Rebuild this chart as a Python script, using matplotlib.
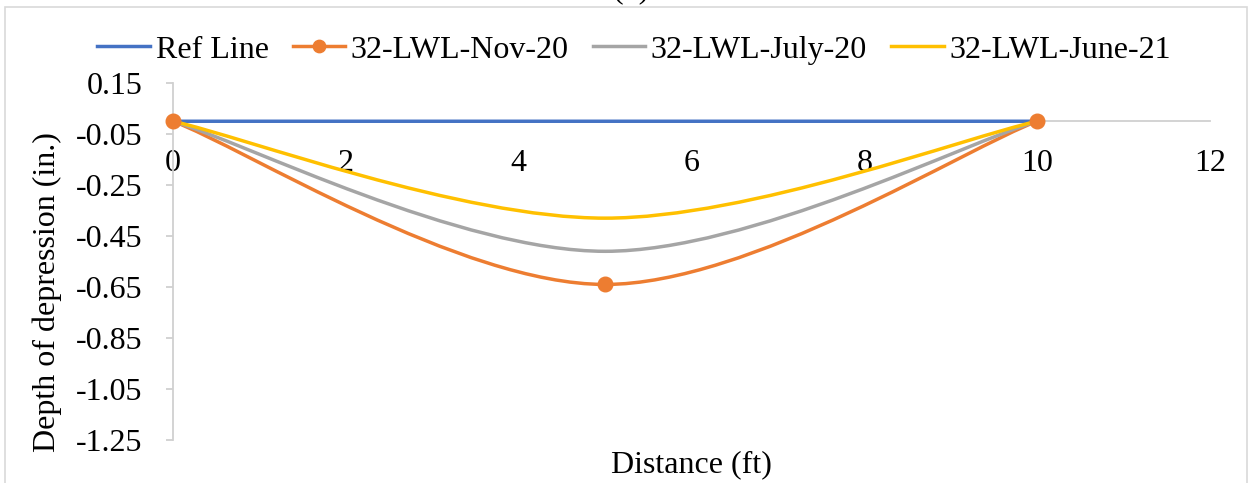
import matplotlib
matplotlib.use("Agg")
import matplotlib.pyplot as plt
from matplotlib.path import Path
from matplotlib.patches import PathPatch, Rectangle
from matplotlib.lines import Line2D

plt.rcParams['font.family'] = ['Liberation Serif', 'DejaVu Serif']
plt.rcParams['axes.unicode_minus'] = False

# ---- data ----
distance = [0, 5, 10]
ref_line = [0, 0, 0]
nov_20 = [0, -0.64, 0]
july_20 = [0, -0.51, 0]
june_21 = [0, -0.38, 0]
series_names = ["Ref Line", "32-LWL-Nov-20", "32-LWL-July-20", "32-LWL-June-21"]
x_ticks = [0, 2, 4, 6, 8, 10, 12]
y_ticks = [0.15, -0.05, -0.25, -0.45, -0.65, -0.85, -1.05, -1.25]
y_tick_labels = ["0.15", "-0.05", "-0.25", "-0.45", "-0.65", "-0.85", "-1.05", "-1.25"]

colors = ["#4472C4", "#ED7D31", "#A5A5A5", "#FFC000"]
FS = 23
LW = 2.5
MS = 10.5

fig = plt.figure(figsize=(12.55, 4.83), dpi=100)
W, H = 1255, 483
ax = fig.add_axes([173 / W, 1 - 440 / H, (1210 - 173) / W, (440 - 83) / H])


def smooth_path(xs, ys):
    """Excel-style smoothed line: cubic Bezier segments through the data points."""
    n = len(xs)
    verts = [(xs[0], ys[0])]
    codes = [Path.MOVETO]
    for i in range(n - 1):
        x0, y0 = xs[max(i - 1, 0)], ys[max(i - 1, 0)]
        x1, y1 = xs[i], ys[i]
        x2, y2 = xs[i + 1], ys[i + 1]
        x3, y3 = xs[min(i + 2, n - 1)], ys[min(i + 2, n - 1)]
        c1 = (x1 + (x2 - x0) / 6, y1 + (y2 - y0) / 6)
        c2 = (x2 - (x3 - x1) / 6, y2 - (y3 - y1) / 6)
        verts += [c1, c2, (x2, y2)]
        codes += [Path.CURVE4] * 3
    return Path(verts, codes)


all_series = [ref_line, nov_20, july_20, june_21]
zorders = [3, 4, 5, 6]
for ys, c, z in zip(all_series, colors, zorders):
    patch = PathPatch(smooth_path(distance, ys), facecolor='none', edgecolor=c,
                      lw=LW, capstyle='round', joinstyle='round', zorder=z)
    ax.add_patch(patch)

# markers for Nov-20
ax.plot(distance, nov_20, linestyle='none', marker='o', ms=MS,
        color=colors[1], zorder=7, clip_on=False)

ax.set_xlim(0, 12)
ax.set_ylim(-1.25, 0.15)

for s in ['top', 'right']:
    ax.spines[s].set_visible(False)
ax.spines['bottom'].set_position(('data', 0))
ax.spines['bottom'].set_color('#D0D0D0')
ax.spines['bottom'].set_linewidth(1.3)
ax.spines['left'].set_color('#D0D0D0')
ax.spines['left'].set_linewidth(1.3)

ax.set_xticks(x_ticks)
ax.set_xticklabels([str(v) for v in x_ticks], fontsize=FS)
ax.tick_params(axis='x', length=0, pad=20)
ax.set_yticks(y_ticks)
ax.set_yticklabels(y_tick_labels, fontsize=FS)
ax.tick_params(axis='y', length=5, width=1.3, color='#D0D0D0', pad=17)

# axis titles
fig.text(47 / W, 1 - 292 / H, "Depth of depression (in.)", rotation=90,
         ha='center', va='center', fontsize=FS)
fig.text(691 / W, 1 - 465 / H, "Distance (ft)", ha='center', va='center', fontsize=FS)

# partially visible title (cut off at the top, as in the source)
fig.text(631 / W, 1 + 2 / H, "(b)", ha='center', va='baseline', fontsize=FS)

# legend
handles = [
    Line2D([], [], color=colors[0], lw=LW),
    Line2D([], [], color=colors[1], lw=LW, marker='o', ms=MS * 0.85),
    Line2D([], [], color=colors[2], lw=LW),
    Line2D([], [], color=colors[3], lw=LW),
]
fig.legend(handles, series_names, loc='center', bbox_to_anchor=(634 / W, 1 - 50 / H),
           ncol=4, frameon=False, fontsize=FS, handlelength=1.65,
           handletextpad=0.17, columnspacing=0.75, borderpad=0, borderaxespad=0)

# chart border
fig.patches.append(Rectangle((5 / W, -0.02), (1247 - 5) / W, (483 - 7) / H + 0.02,
                             transform=fig.transFigure, fill=False,
                             edgecolor='#D9D9D9', lw=1.2))

fig.savefig("out.png", dpi=100)
